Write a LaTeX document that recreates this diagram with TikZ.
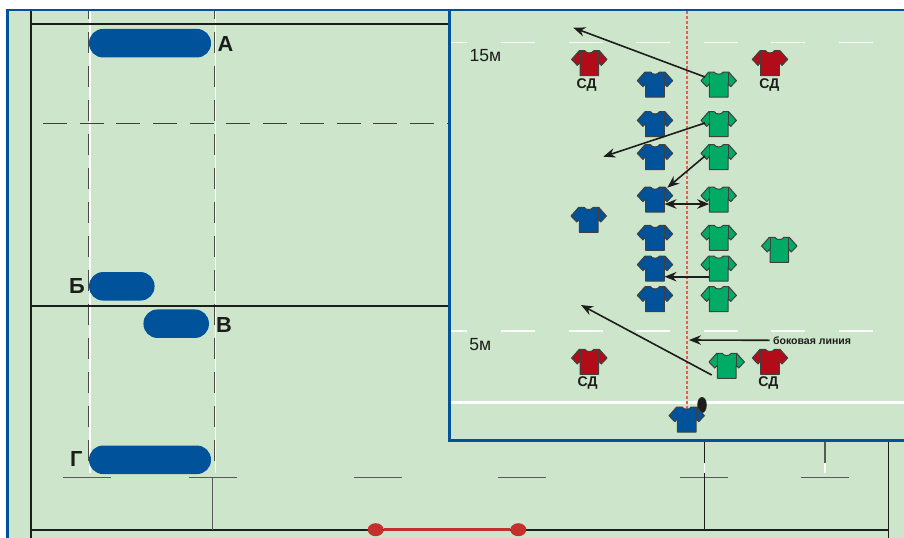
\documentclass[tikz,border=0pt]{standalone}
\usepackage{fontspec}
\setmainfont{Liberation Sans}
\usetikzlibrary{calc,arrows.meta,shapes.geometric}
\definecolor{fieldgreen}{HTML}{CDE6CB}
\definecolor{fieldblue}{HTML}{00529B}
\definecolor{shirtred}{HTML}{B20C18}
\definecolor{shirtgreen}{HTML}{00AB66}
\definecolor{postred}{HTML}{C5302C}
\definecolor{touchred}{HTML}{E0605A}
\definecolor{inkblack}{HTML}{1D1D1B}
\tikzset{
	bar/.style={fill=fieldblue, rounded corners=0.28cm, inner sep=0, minimum height=0.57cm},
	barname/.style={font=\fontsize{12.4}{14}\selectfont\bfseries, text=inkblack, inner sep=0},
	sdname/.style={font=\fontsize{8}{9}\selectfont\bfseries, text=inkblack, inner sep=0},
	metres/.style={font=\fontsize{10}{12}\selectfont, text=inkblack, inner sep=0, anchor=west},
	post/.style={ellipse, fill=postred, inner sep=0, minimum width=0.32cm, minimum height=0.26cm},
	shirtbox/.style={inner sep=0, minimum width=0.38cm, minimum height=0.5cm},
	shirtline/.style={draw=black!75, line width=0.2mm, line join=round},
	run/.style={draw=inkblack, line width=0.032cm, -{Stealth[length=0.24cm,width=0.19cm]}},
	fieldline/.style={draw=inkblack, line width=0.032cm},
	thinline/.style={draw=black!65, line width=0.026cm},
	tenline/.style={draw=inkblack!80, line width=0.028cm, dash pattern=on 0.42cm off 0.26cm, dash phase=0.26cm},
	whiteline/.style={draw=white, line width=0.03cm}
}
\def\shirt[#1](#2)(#3){
	\node[shirtbox] (#2) at (#3) {};
	\draw[shirtline, fill=#1, shift={(#2.center)}] (-4.5, -12.5) .. controls (-3, -9.5) and (3, -9.5) .. (4.5, -12.5) -- (10, -12.5) -- (17.7, -3.8) -- (12, 2.2) -- (9.3, -0.8) -- (9.3, 12.5) -- (-9.3, 12.5) -- (-9.3, -0.8) -- (-12, 2.2) -- (-17.7, -3.8) -- (-10, -12.5) -- cycle;
	\draw[shirtline, line width=0.12mm, shift={(#2.center)}] (-9.3, -0.8) -- (-9.3, -12) (9.3, -0.8) -- (9.3, -12);
	\coordinate (#2sl) at ($(#2.center)+(-13.7, -1.2)$);
}
\begin{document}
\begin{tikzpicture}[x=0.02cm, y=-0.02cm]
		%%%%% START %%%%%
		\useasboundingbox (0, 0) rectangle (904, 538);
		\clip (0, 0) rectangle (904, 538);
		
		\draw[fill=fieldgreen, draw=fieldblue, line width=0.055cm] (7.3, 10) rectangle (910, 545);
		
		\draw[whiteline] (89.8, 11) -- (89.8, 473);
		\draw[whiteline] (215.4, 11) -- (215.4, 473);
		\draw[tenline] (88.6, 11) -- (88.6, 463);
		\draw[tenline] (214.4, 11) -- (214.4, 463);
		\draw[draw=inkblack!85, line width=0.026cm, dash pattern=on 0.48cm off 0.254cm] (43, 123.3) -- (449, 123.3);
		
		\draw[fieldline, line width=0.042cm] (31, 11) -- (31, 538);
		\draw[fieldline] (31, 24) -- (449, 24);
		\draw[fieldline] (31, 305.7) -- (449, 305.7);
		\draw[fieldline] (31, 529.7) -- (888.3, 529.7);
		\draw[fieldline] (888.3, 441) -- (888.3, 538);
		
		\node[bar, minimum width=2.44cm] (barA) at (150, 43.2) {};
		\node[bar, minimum width=1.31cm] (barB) at (121.8, 286.3) {};
		\node[bar, minimum width=1.31cm] (barC) at (176.2, 323.7) {};
		\node[bar, minimum width=2.44cm] (barD) at (150, 459.8) {};
		\node[barname] at (225.5, 44) {А};
		\node[barname] at (77, 286) {Б};
		\node[barname] at (224, 325.5) {В};
		\node[barname] at (76.3, 458.5) {Г};
		
		% touch marks
		\draw[thinline] (63.3, 477.7) -- (111, 477.7);
		\draw[thinline] (189, 477.7) -- (237, 477.7);
		\draw[thinline] (354, 477.7) -- (402, 477.7);
		\draw[thinline] (498, 477.7) -- (546, 477.7);
		\draw[thinline] (680, 477.7) -- (728, 477.7);
		\draw[thinline] (800.7, 477.7) -- (848.7, 477.7);
		\draw[thinline] (212.7, 477.7) -- (212.7, 529.7);
		\draw[thinline, draw=inkblack] (704.3, 441) -- (704.3, 463);
		\draw[thinline, draw=inkblack] (704.3, 473) -- (704.3, 529.7);
		\draw[whiteline] (704.3, 463) -- (704.3, 473);
		\draw[thinline] (825, 441) -- (825, 463);
		\draw[whiteline] (825, 463) -- (825, 473);
		
		\node[post] (postL) at (375.7, 529.7) {};
		\node[post] (postR) at (518.3, 529.7) {};
		\draw[draw=postred, line width=0.05cm] (postL) -- (postR);
		
		% close-up
		\draw[fill=fieldgreen, draw=fieldblue, line width=0.05cm] (449.5, 10) rectangle (910, 440.7);
		
		\draw[draw=white, line width=0.03cm, dash pattern=on 0.68cm off 0.672cm, dash phase=0.352cm] (451, 42.7) -- (873, 42.7);
		\draw[draw=white, line width=0.03cm, dash pattern=on 0.68cm off 0.672cm, dash phase=0.352cm] (451, 331) -- (876, 331);
		\draw[draw=white, line width=0.055cm] (451, 402.3) -- (904, 402.3);
		\draw[draw=touchred, line width=0.036cm, dash pattern=on 0.06cm off 0.04cm] (687.3, 11) -- (687.3, 410);
		
		\node[metres] at (469.3, 56) {15м};
		\node[metres] at (469, 344.3) {5м};
		
		\shirt[shirtred](sdTL)(589.3, 63.2)
		\shirt[shirtred](sdTR)(770, 63.2)
		\shirt[shirtred](sdBL)(589.3, 361.8)
		\shirt[shirtred](sdBR)(770, 361.8)
		\node[sdname] at (586.7, 84.5) {СД};
		\node[sdname] at (769.3, 84.5) {СД};
		\node[sdname] at (587.7, 382.5) {СД};
		\node[sdname] at (768.3, 382.5) {СД};
		
		\shirt[fieldblue](blueA)(655, 84.5)
		\shirt[fieldblue](blueB)(655, 124.2)
		\shirt[fieldblue](blueC)(655, 157.2)
		\shirt[fieldblue](blueD)(655, 199.5)
		\shirt[fieldblue](blueE)(655, 237.8)
		\shirt[fieldblue](blueF)(655, 268.5)
		\shirt[fieldblue](blueG)(655, 299.2)
		\shirt[fieldblue](blueBack)(588.7, 219.8)
		
		\node[ellipse, fill=inkblack, inner sep=0, minimum width=0.19cm, minimum height=0.32cm] (ball) at (702, 405) {};
		\shirt[fieldblue](blueHalf)(686.7, 419.5)
		
		\shirt[shirtgreen](greenA)(718.7, 84.5)
		\shirt[shirtgreen](greenB)(718.7, 124.2)
		\shirt[shirtgreen](greenC)(718.7, 157.2)
		\shirt[shirtgreen](greenD)(718.7, 199.5)
		\shirt[shirtgreen](greenE)(718.7, 237.8)
		\shirt[shirtgreen](greenF)(718.7, 268.5)
		\shirt[shirtgreen](greenG)(718.7, 299.2)
		\shirt[shirtgreen](greenBack)(779.3, 249.8)
		\shirt[shirtgreen](greenHalf)(726.7, 365.8)
		
		% runs
		\coordinate (runA) at (573.3, 27.7);
		\coordinate (runB) at (603.3, 156.7);
		\coordinate (runC) at (581, 305);
		\coordinate (runCfrom) at (711.7, 375);
		\coordinate (lineTip) at (689, 340);
		\draw[run] ($(greenAsl)+(0, -6.3)$) -- (runA);
		\draw[run] (greenBsl) -- (runB);
		\draw[run] (greenCsl) -- ($(blueD.north east)+(2.5, 1)$);
		\draw[run, {Stealth[length=0.24cm,width=0.19cm]}-{Stealth[length=0.24cm,width=0.19cm]}] ($(blueD.center)+(9.5, 4.5)$) -- ($(greenD.center)+(-9.5, 4.5)$);
		\draw[run] ($(greenF.center)+(-9.5, 8.2)$) -- ($(blueF.center)+(9.5, 8.2)$);
		\draw[run] (runCfrom) -- (runC);
		
		\node[font=\fontsize{6}{7}\selectfont\bfseries, text=inkblack, inner sep=0, anchor=west] (lineName) at (772.7, 340.3) {боковая линия};
		\draw[run] (lineName.west) ++(-3, 0) -- (lineTip);
		%%%%% END %%%%%
	\end{tikzpicture}
\end{document}
